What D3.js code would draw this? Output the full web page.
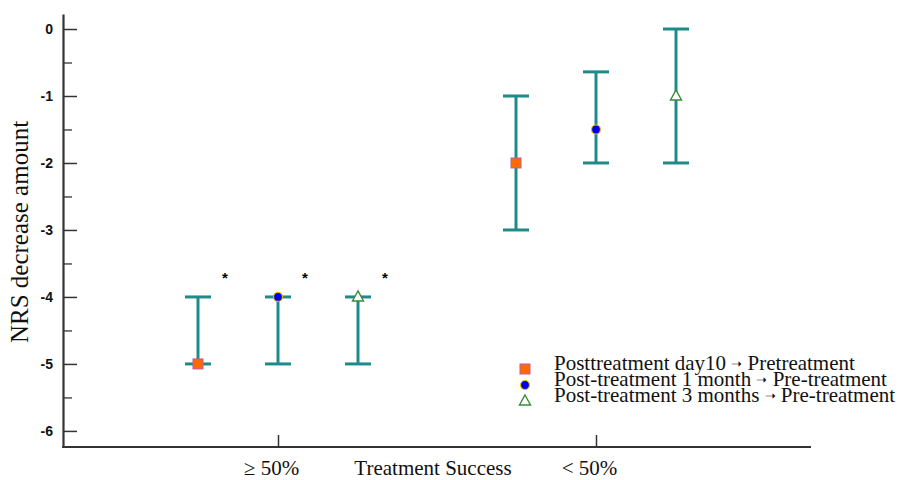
<!DOCTYPE html>
<html><head><meta charset="utf-8">
<script src="https://cdn.jsdelivr.net/npm/d3@7"></script>
<style>body{margin:0;background:#fff}svg{display:block}</style>
</head><body>
<script>
const categories = ["≥ 50%", "< 50%"];
const seriesNames = [
  ["Posttreatment day10", "Pretreatment"],
  ["Post-treatment 1 month", "Pre-treatment"],
  ["Post-treatment 3 months", "Pre-treatment"]
];
const seriesKeys = ["day10", "month1", "month3"];
// center, low, high per category
const centers = { day10: [-5, -2], month1: [-4, -1.5], month3: [-4, -1] };
const lows    = { day10: [-5, -3], month1: [-5, -2],   month3: [-5, -2] };
const highs   = { day10: [-4, -1], month1: [-4, -0.64], month3: [-4, 0] };
const significance = { day10: ["*", ""], month1: ["*", ""], month3: ["*", ""] };
const sigValue = -3.68;
const yTicks = [0, -1, -2, -3, -4, -5, -6];
const yMinorTicks = [-0.5, -1.5, -2.5, -3.5, -4.5, -5.5];

const W = 909, H = 480;
const svg = d3.select("body").append("svg").attr("width", W).attr("height", H);

const y = d3.scaleLinear().domain([-6.24, 0.224]).range([447, 14]);
const x = d3.scalePoint().domain(categories).range([278, 596]);
const off = d3.scalePoint().domain(seriesKeys).range([-80, 80]);

const axisColor = "#333";
const teal = "#1f8a8a";
const serif = "Liberation Serif, Times New Roman, serif";

// Y axis
const yAxis = svg.append("g").attr("transform", "translate(63,0)")
  .call(d3.axisLeft(y).tickValues(yTicks).tickSizeInner(-14).tickSizeOuter(0).tickPadding(10).tickFormat(d => String(d)));
yAxis.select(".domain").attr("stroke", axisColor).attr("stroke-width", 2.2);
yAxis.selectAll(".tick line").attr("stroke", axisColor).attr("stroke-width", 1.5);
yAxis.selectAll(".tick text").attr("font-family", "Liberation Sans, Arial, sans-serif")
  .attr("font-weight", "bold").attr("font-size", 14).attr("fill", "#111");
const yMinor = svg.append("g").attr("transform", "translate(63,0)")
  .call(d3.axisLeft(y).tickValues(yMinorTicks).tickSizeInner(-9).tickSizeOuter(0).tickFormat(""));
yMinor.select(".domain").remove();
yMinor.selectAll(".tick line").attr("stroke", axisColor).attr("stroke-width", 1.3);

// X axis
svg.append("line").attr("x1", 62).attr("x2", 811).attr("y1", 447).attr("y2", 447)
  .attr("stroke", axisColor).attr("stroke-width", 2.2);
const xAxis = svg.append("g").attr("transform", "translate(0,447)")
  .call(d3.axisBottom(x).tickSizeInner(-12).tickSizeOuter(0).tickPadding(0).tickFormat(""));
xAxis.select(".domain").remove();
xAxis.selectAll(".tick line").attr("stroke", axisColor).attr("stroke-width", 1.5);
xAxis.selectAll(".tick").append("text").attr("x", -7).attr("y", 28)
  .attr("text-anchor", "middle").attr("font-family", serif)
  .attr("font-size", 21).attr("fill", "#111").text(d => d);

// Axis titles
svg.append("text").attr("x", 433).attr("y", 475)
  .attr("text-anchor", "middle").attr("font-family", serif)
  .attr("font-size", 21).attr("fill", "#111").text("Treatment Success");
svg.append("text").attr("transform", "translate(28,232) rotate(-90)")
  .attr("text-anchor", "middle").attr("font-family", serif)
  .attr("font-size", 25).attr("fill", "#111").text("NRS decrease amount");

// Error bars
const capHalf = 13;
seriesKeys.forEach(k => {
  categories.forEach((c, i) => {
    const cx = x(c) + off(k);
    const g = svg.append("g");
    g.append("line").attr("x1", cx).attr("x2", cx).attr("y1", y(lows[k][i])).attr("y2", y(highs[k][i]))
      .attr("stroke", teal).attr("stroke-width", 3);
    [lows[k][i], highs[k][i]].forEach(v => {
      g.append("line").attr("x1", cx - capHalf).attr("x2", cx + capHalf).attr("y1", y(v)).attr("y2", y(v))
        .attr("stroke", teal).attr("stroke-width", 3);
    });
    if (significance[k][i]) {
      svg.append("text").attr("x", cx + 27).attr("y", y(sigValue) + 7).attr("text-anchor", "middle")
        .attr("font-family", "Liberation Sans, Arial, sans-serif").attr("font-size", 15).attr("font-weight", "bold")
        .attr("fill", "#000").text(significance[k][i]);
    }
  });
});

function drawMarker(g, k, cx, cy) {
  if (k === "day10") {
    g.append("rect").attr("x", cx - 5).attr("y", cy - 5).attr("width", 10).attr("height", 10)
      .attr("fill", "#ff6a00").attr("stroke", "#c05aa0").attr("stroke-width", 1);
  } else if (k === "month1") {
    g.append("circle").attr("cx", cx).attr("cy", cy).attr("r", 4.5)
      .attr("fill", "#0000ee").attr("stroke", "#e8c000").attr("stroke-width", 1.2);
  } else {
    g.append("path").attr("d", `M${cx},${cy - 6}L${cx + 5.5},${cy + 4}L${cx - 5.5},${cy + 4}Z`)
      .attr("fill", "#fff").attr("stroke", "#3a8a3a").attr("stroke-width", 1.4);
  }
}
seriesKeys.forEach(k => {
  categories.forEach((c, i) => drawMarker(svg, k, x(c) + off(k), y(centers[k][i])));
});

// Legend
const legY = [369, 385, 401];
seriesKeys.forEach((k, i) => {
  drawMarker(svg, k, 525, legY[i]);
  const t = svg.append("text").attr("x", 554).attr("y", legY[i] + 1)
    .attr("font-family", serif).attr("font-size", 21).attr("fill", "#111");
  t.append("tspan").text(seriesNames[i][0] + " ");
  t.append("tspan").attr("font-size", 13).attr("dy", -2).text("➝");
  t.append("tspan").attr("dy", 2).text(" " + seriesNames[i][1]);
});
</script>
</body></html>
